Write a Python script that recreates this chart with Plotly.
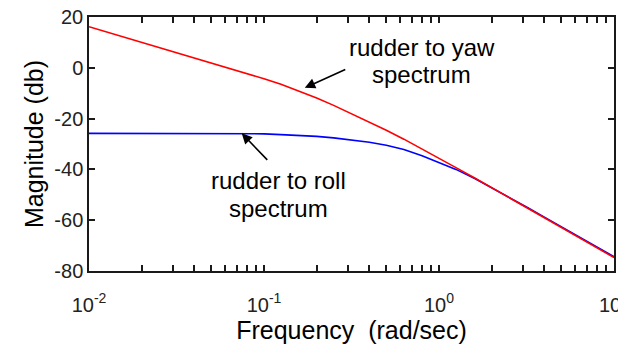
import numpy as np
import plotly.graph_objects as go

# Frequency grid (rad/sec) and magnitude responses (dB)
freq = [0.01, 0.0125, 0.016, 0.02, 0.025, 0.032, 0.04, 0.05, 0.063, 0.08,
        0.1, 0.125, 0.16, 0.2, 0.25, 0.32, 0.4, 0.5, 0.63, 0.8,
        1.0, 1.25, 1.6, 2.0, 2.5, 3.2, 4.0, 5.0, 6.3, 8.0, 10.0]

yaw_db = [16.2, 14.2, 12.1, 10.1, 8.1, 6.0, 4.0, 2.0, 0.0, -2.2,
          -4.3, -6.5, -9.2, -11.9, -14.8, -18.2, -21.4, -24.6, -28.1, -31.9,
          -35.6, -39.3, -43.4, -47.2, -51.0, -55.2, -59.0, -62.8, -66.8, -70.9, -74.7]

roll_db = [-25.8, -25.8, -25.8, -25.8, -25.8, -25.8, -25.8, -25.8, -25.8, -25.9,
           -26.0, -26.3, -26.6, -27.0, -27.6, -28.4, -29.3, -30.5, -32.2, -34.6,
           -37.2, -40.0, -43.6, -47.2, -50.9, -55.0, -58.8, -62.6, -66.5, -70.6, -74.4]

# Axis ticks
decades = [0.01, 0.1, 1, 10]
decade_labels = ["10<sup>-2</sup>", "10<sup>-1</sup>", "10<sup>0</sup>", "10<sup>1</sup>"]
y_ticks = [20, 0, -20, -40, -60, -80]
y_labels = ["20", "0", "-20", "-40", "-60", "-80"]

x_range = [np.log10(decades[0]), np.log10(decades[-1])]
y_range = [y_ticks[-1], y_ticks[0]]

fig = go.Figure()
fig.add_trace(go.Scatter(x=freq, y=roll_db, mode="lines",
                         line=dict(color="#0000ff", width=1.6), showlegend=False))
fig.add_trace(go.Scatter(x=freq, y=yaw_db, mode="lines",
                         line=dict(color="#ff0000", width=1.6), showlegend=False))

font = "Liberation Sans, Arial, sans-serif"
axis_color = "#1a1a1a"
clear = "rgba(0,0,0,0)"

fig.update_layout(
    template="none",
    width=618, height=344,
    margin=dict(l=89, r=4, t=17, b=73),
    paper_bgcolor="white", plot_bgcolor="white",
    # Labelled axes
    xaxis=dict(
        type="log", range=x_range,
        tickmode="array", tickvals=decades, ticktext=decade_labels, ticks="",
        showline=True, linecolor=axis_color, linewidth=1.5, mirror=True,
        gridcolor=clear, zerolinecolor=clear, automargin=False,
        ticklabelstandoff=15, ticklabeloverflow="allow",
        tickfont=dict(family=font, size=20, color="#222"),
        title=dict(text="Frequency\u00a0 (rad/sec)",
                   font=dict(family=font, size=25, color="#000"), standoff=0),
    ),
    yaxis=dict(
        range=y_range,
        tickmode="array", tickvals=y_ticks, ticktext=y_labels, ticks="",
        showline=True, linecolor=axis_color, linewidth=1.5, mirror=True,
        gridcolor=clear, zerolinecolor=clear, automargin=False,
        tickfont=dict(family=font, size=20, color="#222"),
        title=dict(text="Magnitude (db)",
                   font=dict(family=font, size=25, color="#000"), standoff=4),
    ),
    # Overlaid axes carrying the inward tick marks on all four sides
    xaxis2=dict(
        type="log", range=x_range, overlaying="x", anchor="y", side="bottom",
        dtick="D1", ticks="inside", ticklen=6, tickwidth=2, tickcolor=axis_color,
        showticklabels=False, mirror="ticks", showline=True,
        linecolor=axis_color, linewidth=1.5,
        gridcolor=clear, zerolinecolor=clear, automargin=False,
    ),
    yaxis2=dict(
        range=y_range, overlaying="y", anchor="x", side="left",
        tick0=0, dtick=20, ticks="inside", ticklen=6, tickwidth=2, tickcolor=axis_color,
        showticklabels=False, mirror="ticks", showline=True,
        linecolor=axis_color, linewidth=1.5,
        gridcolor=clear, zerolinecolor=clear, automargin=False,
    ),
)

# Invisible trace that attaches the tick-mark axes to the figure
fig.add_trace(go.Scatter(x=freq, y=yaw_db, xaxis="x2", yaxis="y2", mode="lines",
                         line=dict(color=clear, width=0), hoverinfo="skip",
                         showlegend=False))

ann_font = dict(family=font, size=24, color="#000")
label_lines = [
    ("rudder to yaw", 0.634, 0.878),
    ("spectrum", 0.634, 0.772),
    ("rudder to roll", 0.360, 0.358),
    ("spectrum", 0.360, 0.248),
]
for txt, px, py in label_lines:
    fig.add_annotation(xref="paper", yref="paper", x=px, y=py, text=txt,
                       xanchor="center", yanchor="middle",
                       showarrow=False, font=ann_font)

# Pointer arrows toward each curve
fig.add_annotation(x=np.log10(0.171), y=-7.9, xref="x", yref="y", text="",
                   showarrow=True, arrowhead=2, arrowsize=1.3, arrowwidth=1.6,
                   arrowcolor="#000", ax=42, ay=-19)
fig.add_annotation(x=np.log10(0.0746), y=-25.8, xref="x", yref="y", text="",
                   showarrow=True, arrowhead=2, arrowsize=1.3, arrowwidth=1.6,
                   arrowcolor="#000", ax=27, ay=28)

fig.write_html("out.html")
